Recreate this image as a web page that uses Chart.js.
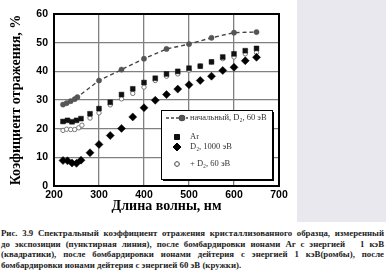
<!DOCTYPE html>
<html>
<head>
<meta charset="utf-8">
<script src="https://cdn.jsdelivr.net/npm/chart.js@4.4.1/dist/chart.umd.min.js"></script>
<style>
  html, body { margin: 0; padding: 0; background: #fff; }
  body { width: 386px; height: 276px; position: relative; overflow: hidden; }
  #plot { position: absolute; left: 0; top: 0; width: 297px; height: 222px; background: #fff; }
  #side { position: absolute; left: 297px; top: 0; width: 89px; height: 222px; background: #e9e8ef; }
  #caption { position: absolute; left: 1px; top: 228px; width: 383px;
    font-family: "Liberation Serif", "DejaVu Serif", serif; font-weight: bold;
    font-size: 8.8px; line-height: 10.7px; color: #222; }
  #caption div { text-align: justify; text-align-last: justify; }
  #caption div.last { text-align-last: left; }
</style>
</head>
<body>
<div id="plot"><canvas id="chart" width="297" height="222"></canvas></div>
<div id="side"></div>
<div id="caption">
  <div>Рис. 3.9 Спектральный коэффициент отражения кристаллизованного образца, измеренный</div>
  <div>до экспозиции (пунктирная линия), после бомбардировки ионами Ar с энергией &nbsp; 1 кэВ</div>
  <div>(квадратики), после бомбардировки ионами дейтерия с энергией 1 кэВ(ромбы), после</div>
  <div class="last">бомбардировки ионами дейтерия с энергией 60 эВ (кружки).</div>
</div>
<script>
// wavelength (nm) and reflectance (%)
const initialWl = [220, 228, 237, 246, 252, 300, 350, 400, 450, 500, 550, 600, 650];
const initialVal = [28.4, 28.9, 29.6, 30.3, 31.0, 36.8, 40.6, 44.4, 47.8, 49.5, 51.7, 53.5, 53.7];

const arWl = [220, 230, 240, 250, 260, 280, 300, 325, 350, 375, 400, 425, 450, 475, 500, 525, 550, 575, 600, 625, 650];
const arVal = [22.5, 22.9, 22.4, 22.9, 23.5, 25.2, 27.0, 29.2, 31.9, 33.9, 36.1, 37.6, 39.1, 40.0, 41.1, 41.8, 43.3, 45.0, 46.1, 47.2, 48.0];

const d1000Wl = [220, 230, 240, 250, 260, 280, 300, 325, 350, 375, 400, 425, 450, 475, 500, 525, 550, 575, 600, 625, 650];
const d1000Val = [8.9, 8.8, 8.0, 7.9, 9.0, 11.6, 14.5, 17.6, 20.1, 24.1, 27.3, 29.9, 31.9, 33.8, 35.3, 36.8, 38.3, 40.3, 41.4, 43.7, 44.9];

const d60Wl = [220, 228, 237, 246, 255, 262, 280, 300, 325, 350, 375, 400, 425, 450, 475, 500, 525, 550, 575, 600, 625, 650];
const d60Val = [19.4, 19.8, 19.7, 19.7, 20.3, 21.2, 23.7, 25.5, 28.3, 30.4, 32.3, 34.5, 36.8, 38.3, 39.1, 40.4, 41.8, 43.3, 44.4, 45.0, 46.1, 46.6];

const seriesNames = ["начальный, D\u2082, 60 эВ", "Ar", "D\u2082, 1000 эВ", "+ D\u2082, 60 эВ"];
const xTicks = [200, 300, 400, 500, 600, 700];
const yTicks = [0, 10, 20, 30, 40, 50, 60];

function pts(xs, ys) {
  return xs.map((x, i) => ({ x: x, y: ys[i] }));
}

const boxPlugin = {
  id: "box",
  beforeDatasetsDraw(chart) {
    const a = chart.chartArea;
    const ctx = chart.ctx;
    ctx.save();
    ctx.strokeStyle = "#000";
    ctx.lineWidth = 2;
    ctx.strokeRect(a.left, a.top, a.right - a.left, a.bottom - a.top);
    ctx.restore();
  },
  afterDraw(chart) {
    // legend box inside the plot
    const ctx = chart.ctx;
    const bx = 161, by = 110, bw = 111, bh = 69;
    ctx.save();
    ctx.fillStyle = "#fff";
    ctx.fillRect(bx, by, bw, bh);
    ctx.fillStyle = "#000";
    ctx.fillRect(bx + 2, by + bh, bw, 2);
    ctx.fillRect(bx + bw, by + 2, 2, bh);
    ctx.strokeStyle = "#000";
    ctx.lineWidth = 1;
    ctx.strokeRect(bx + 0.5, by + 0.5, bw, bh);

    ctx.font = "8.5px 'Liberation Serif', serif";
    ctx.fillStyle = "#333";
    ctx.textBaseline = "middle";
    const rows = [118, 137, 147, 164];
    const mx = 177, tx = 190;
    chart.data.datasets.forEach((ds, i) => {
      const y = rows[i];
      ctx.save();
      if (i === 0) {
        ctx.strokeStyle = "#444";
        ctx.lineWidth = 1.3;
        ctx.setLineDash([3, 2]);
        ctx.beginPath();
        ctx.moveTo(166, y);
        ctx.lineTo(188, y);
        ctx.stroke();
        ctx.setLineDash([]);
      }
      Chart.helpers.drawPoint(ctx, {
        pointStyle: ds.pointStyle,
        radius: ds.pointRadius,
        borderWidth: ds.pointBorderWidth
      }, i === 0 ? 182 : mx, y);
      ctx.fillStyle = ds.pointBackgroundColor;
      ctx.strokeStyle = ds.pointBorderColor;
      ctx.lineWidth = ds.pointBorderWidth;
      ctx.fill();
      if (ds.pointBorderWidth > 0) ctx.stroke();
      ctx.restore();
      ctx.fillText(ds.label, tx, y);
    });
    ctx.restore();
  }
};

new Chart(document.getElementById("chart"), {
  type: "scatter",
  data: {
    datasets: [
      {
        label: seriesNames[0],
        data: pts(initialWl, initialVal),
        showLine: true,
        borderColor: "#444",
        borderWidth: 1.4,
        borderDash: [4, 3],
        pointStyle: "circle",
        pointRadius: 2.6,
        pointBackgroundColor: "#555",
        pointBorderColor: "#555",
        pointBorderWidth: 0.5
      },
      {
        label: seriesNames[1],
        data: pts(arWl, arVal),
        pointStyle: "rect",
        pointRadius: 3.4,
        pointBackgroundColor: "#111",
        pointBorderColor: "#111",
        pointBorderWidth: 0.5
      },
      {
        label: seriesNames[2],
        data: pts(d1000Wl, d1000Val),
        pointStyle: "rectRot",
        pointRadius: 4,
        pointBackgroundColor: "#000",
        pointBorderColor: "#000",
        pointBorderWidth: 0.5
      },
      {
        label: seriesNames[3],
        data: pts(d60Wl, d60Val),
        pointStyle: "circle",
        pointRadius: 2.2,
        pointBackgroundColor: "#fff",
        pointBorderColor: "#777",
        pointBorderWidth: 1
      }
    ]
  },
  options: {
    responsive: false,
    animation: false,
    layout: { padding: { left: 0, right: 18, top: 14, bottom: 0 } },
    plugins: { legend: { display: false }, tooltip: { enabled: false } },
    scales: {
      x: {
        type: "linear",
        min: 200,
        max: 700,
        afterBuildTicks(scale) { scale.ticks = xTicks.map(v => ({ value: v })); },
        afterFit(scale) { scale.height = 36; },
        grid: { color: "#808080", lineWidth: 1.3, drawTicks: false },
        border: { display: false },
        ticks: {
          padding: 3,
          color: "#000",
          font: { family: "'Liberation Sans', Arial, sans-serif", size: 10.5, weight: "bold" }
        },
        title: {
          display: true,
          text: "Длина волны, нм",
          color: "#000",
          padding: { top: 0, bottom: 7 },
          font: { family: "'Liberation Serif', serif", size: 14, weight: "bold" }
        }
      },
      y: {
        min: 0,
        max: 60,
        afterBuildTicks(scale) { scale.ticks = yTicks.map(v => ({ value: v })); },
        afterFit(scale) { scale.width = 54; },
        grid: { color: "#808080", lineWidth: 1.3, drawTicks: false },
        border: { display: false },
        ticks: {
          padding: 6,
          color: "#000",
          font: { family: "'Liberation Sans', Arial, sans-serif", size: 10.5, weight: "bold" }
        },
        title: {
          display: true,
          text: "Коэфициент отражения, %",
          color: "#000",
          padding: { top: 8, bottom: 0 },
          font: { family: "'Liberation Serif', serif", size: 14, weight: "bold" }
        }
      }
    }
  },
  plugins: [boxPlugin]
});
</script>
</body>
</html>
